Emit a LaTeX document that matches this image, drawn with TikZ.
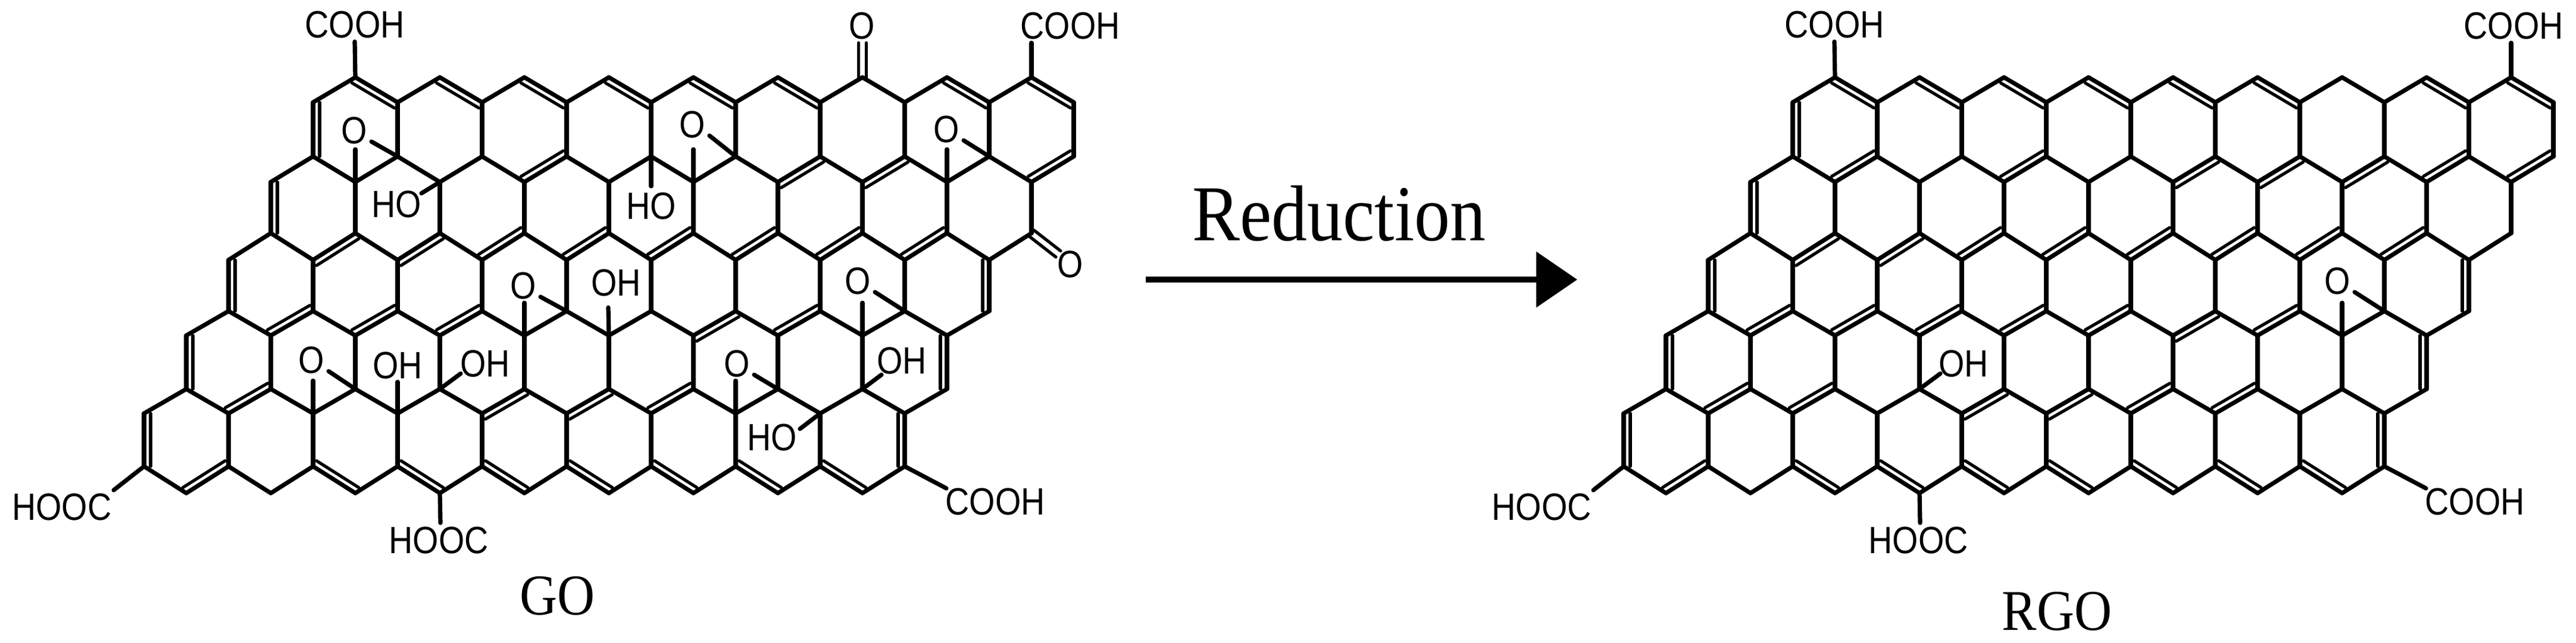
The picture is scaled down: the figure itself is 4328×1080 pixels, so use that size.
\documentclass[tikz,border=0pt]{standalone}
\usepackage{fontspec}
\usepackage{tikz}
\usetikzlibrary{calc}
\usetikzlibrary{arrows.meta}
\newfontfamily\chemfont[FakeStretch=.87]{Liberation Sans}
\newfontfamily\capfont[FakeStretch=.9]{Liberation Serif}
\tikzset{
  bond/.style={line width=.72mm,line cap=round,line join=round},
  innerbond/.style={line width=.52mm,line cap=round},
  chemlabel/.style={inner sep=0pt,font=\chemfont\fontsize{18.2}{20}\selectfont},
  sheetname/.style={inner sep=0pt,anchor=base,font=\capfont\fontsize{27.6}{30}\selectfont},
  reactionname/.style={inner sep=0pt,anchor=base,font=\capfont\fontsize{37.9}{40}\selectfont},
  reactionarrow/.style={line width=.95mm,-{Triangle[length=6.9mm,width=9.2mm]}}
}
\newcommand{\dblbond}[3]{\draw[innerbond] ($(#1)!#3*1.1mm!90:(#2)$) -- ($(#2)!#3*1.1mm!-90:(#1)$);}
\newcommand{\chemgroup}[5]{
  \node[chemlabel] (#1) at (#2) {#3};
  \coordinate (#1-end) at (#5);
  \draw[bond] (#4) -- (#1-end);
}
\newcommand{\carbonyl}[4]{
  \node[chemlabel] (#1) at (#2) {O};
  \coordinate (#1-end) at (#4);
  \draw[innerbond] ($(#3)!.65mm!90:(#1-end)$) -- ($(#1-end)!.65mm!-90:(#3)$);
  \draw[innerbond] ($(#3)!.65mm!-90:(#1-end)$) -- ($(#1-end)!.65mm!90:(#3)$);
}
\newcommand{\epoxide}[4]{
  \node[chemlabel] (#1) at (#2) {O};
  \coordinate (#1-a) at ($(#3)+(0,-55)$);
  \coordinate (#1-b) at ($(#1)+(29,19)$);
  \draw[bond] (#3) -- (#1-a);
  \draw[bond] (#4) -- (#1-b);
}
\newcommand{\drawsheet}[2]{
  \foreach \cj/\ya/\yb/\ia/\ib in {0/130/172/4/22,1/263/306/3/22,2/392/437/2/21,3/523/564/1/20,4/654/695/0/19,5/784/829/0/18}{
    \foreach \ci in {\ia,...,\ib}{
      \pgfmathsetmacro{\xv}{242+71*\ci}
      \pgfmathsetmacro{\yv}{int(mod(\ci+\cj,2))==1 ? \ya : \yb}
      \coordinate (#1-\cj-\ci) at (\xv,\yv);
    }
  }
  \foreach \cj/\ia/\ib in {0/4/21,1/3/21,2/2/20,3/1/19,4/0/18,5/0/17}{
    \foreach \ci in {\ia,...,\ib}{
      \pgfmathtruncatemacro{\cn}{\ci+1}
      \draw[bond] (#1-\cj-\ci) -- (#1-\cj-\cn);
    }
  }
  \foreach \cj in {0,...,4}{
    \foreach \ck in {0,...,9}{
      \pgfmathtruncatemacro{\ci}{4-\cj+2*\ck}
      \pgfmathtruncatemacro{\cn}{\cj+1}
      \draw[bond] (#1-\cj-\ci) -- (#1-\cn-\ci);
    }
  }
  \foreach \cj/\ci/\cs in {0/5/-1,0/7/-1,0/9/-1,0/11/-1,0/13/-1,0/15/-1,0/19/-1,0/21/-1,
    2/4/-1,2/6/-1,2/8/1,2/10/1,2/12/1,2/14/1,2/16/1,2/18/1,
    5/1/1,5/4/1,5/6/1,5/8/1,5/10/1,5/12/1,5/14/1,5/16/1,#2}{
    \pgfmathtruncatemacro{\cn}{\ci+1}
    \dblbond{#1-\cj-\ci}{#1-\cj-\cn}{\cs}
  }
  \foreach \cj/\ci/\cs in {0/4/1,1/3/1,2/2/1,3/1/1,4/0/1,2/20/-1,3/19/-1,4/18/-1}{
    \pgfmathtruncatemacro{\cn}{\cj+1}
    \dblbond{#1-\cj-\ci}{#1-\cn-\ci}{\cs}
  }
  \chemgroup{#1-cooh-top}{596,41}{COOH}{#1-0-5}{596,70}
  \chemgroup{#1-hooc-left}{104,852}{HOOC}{#1-5-0}{191,824}
  \chemgroup{#1-hooc-low}{737,908}{HOOC}{#1-5-7}{740,879}
  \chemgroup{#1-cooh-low}{1672,843}{COOH}{#1-5-18}{1590,821}
  \epoxide{#1-ox-low}{1441,472}{#1-3-17}{#1-3-18}
  \chemgroup{#1-oh-low}{\ohx,611}{OH}{#1-4-7}{774,628}
}
\begin{document}
\begin{tikzpicture}[x=.1mm,y=-.1mm]
  \useasboundingbox (0,0) rectangle (4328,1080);

  \def\ohx{815}
  \drawsheet{go}{1/9/1,1/15/-1,1/17/-1,1/21/1,3/3/1,3/5/1,3/7/1,3/13/-1,3/15/1,4/2/1,4/8/-1,4/10/-1,4/12/1}
  \chemgroup{go-cooh-right}{1798,43}{COOH}{go-0-21}{1733,72}
  \carbonyl{go-keto-top}{1448,43}{go-0-17}{1449,72}
  \carbonyl{go-keto-right}{1798,444}{go-2-21}{1778,427}
  \epoxide{go-ox-a}{595,219}{go-1-5}{go-1-6}
  \epoxide{go-ox-b}{1163,209}{go-1-13}{go-1-14}
  \epoxide{go-ox-c}{1590,217}{go-1-19}{go-1-20}
  \epoxide{go-ox-d}{879,480}{go-3-9}{go-3-10}
  \epoxide{go-ox-e}{1238,611}{go-4-14}{go-4-15}
  \epoxide{go-ox-f}{523,605}{go-4-4}{go-4-5}
  \chemgroup{go-ho-a}{666,343}{HO}{go-1-7}{708,325}
  \chemgroup{go-ho-b}{1094,346}{HO}{go-1-12}{1094,313}
  \chemgroup{go-oh-a}{1035,475}{OH}{go-3-11}{1022,517}
  \chemgroup{go-oh-b}{668,614}{OH}{go-4-6}{668,642}
  \chemgroup{go-oh-c}{1515,606}{OH}{go-4-17}{1481,630}
  \chemgroup{go-ho-c}{1297,735}{HO}{go-4-16}{1344,721}
  \node[sheetname] (goname) at (937,1033) {GO};

  \node[reactionname] (reduction) at (2250,404) {Reduction};
  \coordinate (arrowstart) at (1925,470);
  \coordinate (arrowtip) at (2650,470);
  \draw[reactionarrow] (arrowstart) -- (arrowtip);

  \def\ohx{813}
  \begin{scope}[shift={(2486,0)}]
    \drawsheet{rgo}{1/5/1,1/9/1,1/13/-1,1/15/-1,1/17/-1,1/19/1,1/21/1,3/3/1,3/5/1,3/7/1,3/9/1,3/11/1,3/13/-1,3/15/1,4/2/1,4/4/1,4/8/-1,4/10/-1,4/12/1,4/14/1}
    \chemgroup{rgo-cooh-right}{1737,43}{COOH}{rgo-0-21}{1733,72}
    \node[sheetname] (rgoname) at (970,1059) {RGO};
  \end{scope}
\end{tikzpicture}
\end{document}
